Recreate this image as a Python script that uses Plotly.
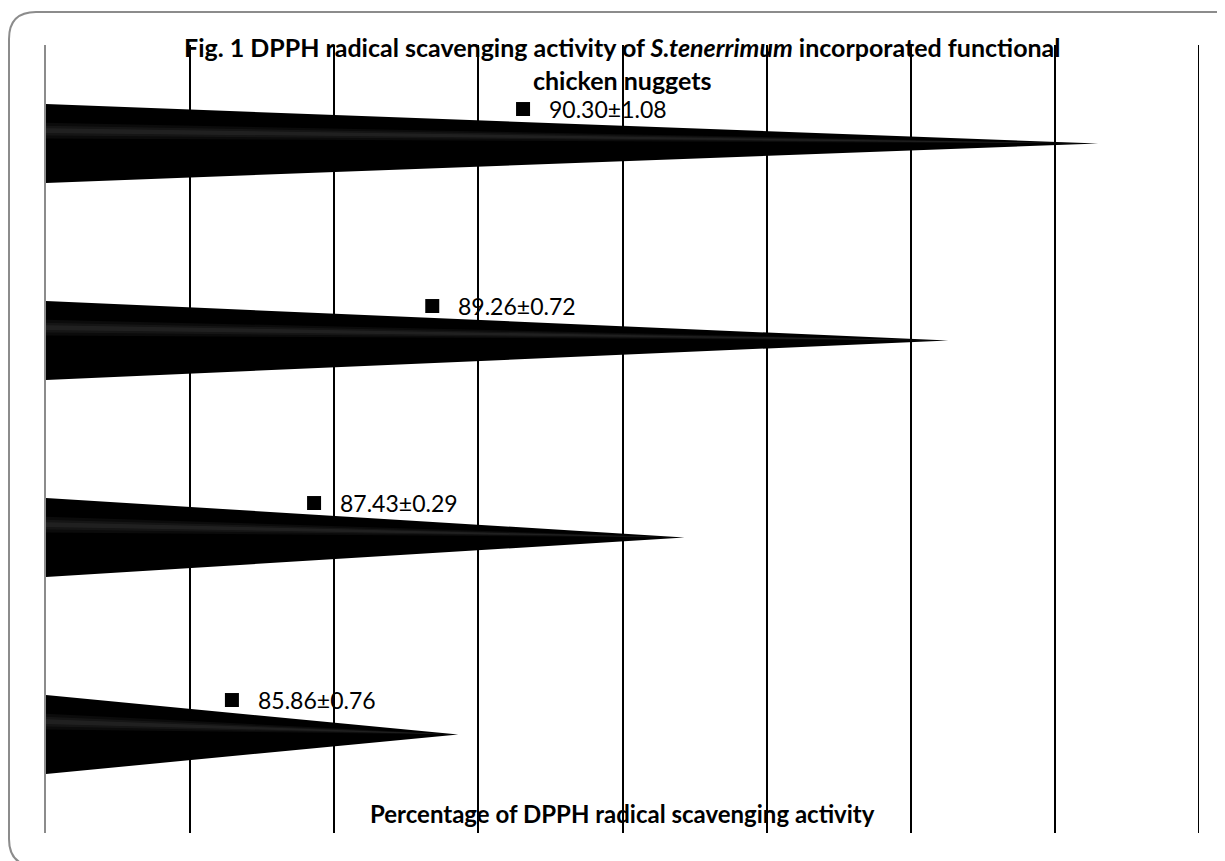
import plotly.graph_objects as go

# ---- data (bottom to top) ----
categories = ["Sample 1", "Sample 2", "Sample 3", "Sample 4"]
dpph_mean = [85.86, 87.43, 89.26, 90.30]
dpph_sd = [0.76, 0.29, 0.72, 1.08]
x_ticks = [83, 84, 85, 86, 87, 88, 89, 90, 91]

# ---- layout constants ----
X0, X1 = x_ticks[0], x_ticks[-1]
HALF = 0.2           # half thickness of cone base (category units)
label_x = [84.29, 84.86, 85.68, 86.31]
label_dy = 0.175

OFF = 8              # page body margin
W, H = 1217, 853
ML, MR, MT, MB = 38, 26, 37, 28
PW, PH = W - ML - MR, H - MT - MB

def px(X):   # screen pixel -> paper
    return (X - OFF - ML) / PW

def py(Y):
    return (H - MB - (Y - OFF)) / PH

fig = go.Figure()

for i, (cat, v, sd) in enumerate(zip(categories, dpph_mean, dpph_sd)):
    # black cone
    fig.add_trace(go.Scatter(
        x=[X0, v, X0, X0], y=[i + HALF, i, i - HALF, i + HALF],
        mode="lines", fill="toself", fillcolor="black",
        line=dict(color="black", width=0), hoverinfo="text",
        text=f"{cat}: {v:.2f}±{sd:.2f}", showlegend=False))
    # subtle highlight stripe
    c = i + 0.065
    for w, a in [(0.04, 0.045), (0.025, 0.045), (0.012, 0.05)]:
        fig.add_trace(go.Scatter(
            x=[X0, v, X0, X0], y=[c + w, i, c - w, c + w],
            mode="lines", fill="toself", fillcolor=f"rgba(255,255,255,{a})",
            line=dict(width=0), hoverinfo="skip", showlegend=False))

# label markers
fig.add_trace(go.Scatter(
    x=label_x, y=[i + label_dy for i in range(len(dpph_mean))],
    mode="markers", marker=dict(symbol="square", size=14, color="black"),
    hoverinfo="skip", showlegend=False))

for i, (v, sd) in enumerate(zip(dpph_mean, dpph_sd)):
    fig.add_annotation(x=label_x[i], y=i + label_dy, xref="x", yref="y",
                       text=f"{v:.2f}±{sd:.2f}", showarrow=False,
                       xanchor="left", yanchor="middle", xshift=24,
                       font=dict(family="Lato", size=23, color="black"))

# axis title inside plot
fig.add_annotation(x=0.5, y=py(813), xref="paper", yref="paper",
                   text="<b>Percentage of DPPH radical scavenging activity</b>",
                   showarrow=False, xanchor="center", yanchor="middle",
                   font=dict(family="Lato", size=24, color="black"))

# title
fig.add_annotation(x=0.5, y=py(63), xref="paper", yref="paper",
                   text="<b>Fig. 1 DPPH radical scavenging activity of <i>S.tenerrimum</i> incorporated functional<br>chicken nuggets</b>",
                   showarrow=False, xanchor="center", yanchor="middle",
                   font=dict(family="Lato", size=25, color="black"))

# gridline at the far end of the axis (not drawn by plotly at range edge)
fig.add_shape(type="line", xref="x", yref="paper", x0=X1, x1=X1, y0=0, y1=1,
              line=dict(color="black", width=2), layer="below")

# rounded border
L, T, R, B, r = 9, 12, 1242, 866, 27
path = (f"M {px(L+r)},{py(T)} L {px(R-r)},{py(T)} Q {px(R)},{py(T)} {px(R)},{py(T+r)} "
        f"L {px(R)},{py(B-r)} Q {px(R)},{py(B)} {px(R-r)},{py(B)} "
        f"L {px(L+r)},{py(B)} Q {px(L)},{py(B)} {px(L)},{py(B-r)} "
        f"L {px(L)},{py(T+r)} Q {px(L)},{py(T)} {px(L+r)},{py(T)} Z")
fig.add_shape(type="path", path=path, xref="paper", yref="paper",
              line=dict(color="#8c8c8c", width=2), layer="below")

fig.update_layout(
    width=W, height=H,
    margin=dict(l=ML, r=MR, t=MT, b=MB),
    paper_bgcolor="white", plot_bgcolor="white",
    xaxis=dict(range=[X0, X1], tickvals=x_ticks, showticklabels=False,
               showgrid=True, gridcolor="black", gridwidth=2,
               zeroline=False, showline=False, ticks=""),
    yaxis=dict(range=[-0.5, len(categories) - 0.5], showticklabels=False,
               showgrid=False, zeroline=False, showline=True,
               linecolor="#8c8c8c", linewidth=2, ticks="", layer="above traces"),
)

fig.write_html("out.html")
